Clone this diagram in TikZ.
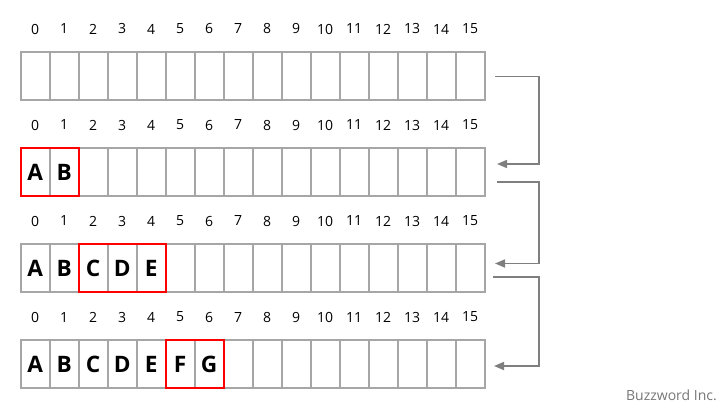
\documentclass[tikz,border=0pt]{standalone}
\usepackage{fontspec}
\setmainfont{Open Sans}
\usetikzlibrary{arrows.meta}
\definecolor{cellgray}{HTML}{A6A6A6}
\definecolor{arrowgray}{HTML}{7F7F7F}
\definecolor{boxred}{HTML}{FF0000}
\definecolor{markgray}{HTML}{767676}
\begin{document}
\begin{tikzpicture}[x=0.75pt,y=-0.75pt,
  cell/.style={draw=cellgray,line width=1.2pt,minimum width=21.75pt,minimum height=36pt,inner sep=0pt,outer sep=0pt},
  idx/.style={font=\fontsize{10.5}{12}\selectfont,inner sep=0pt},
  letter/.style={font=\bfseries\fontsize{17}{20}\selectfont,inner sep=0pt},
  redbox/.style={draw=boxred,line width=1.3pt},
  conn/.style={draw=arrowgray,line width=1.2pt,-{Triangle[length=7.5pt,width=6pt]}},
  wmark/.style={font=\fontsize{10.5}{12}\selectfont,text=markgray,inner sep=0pt}]
\useasboundingbox (0,0) rectangle (728,410);
% cells and index labels
\foreach \r/\y in {1/76,2/172,3/268,4/364}{
  \foreach \i in {0,...,15}{
    \node[cell] (c\r-\i) at ({35.2+29*\i},\y) {};
    \node[idx] (l\r-\i) at ({35.2+29*\i},\y-47) {\i};
  }
}
% letters
\foreach \L [count=\k from 0] in {A,B}{\node[letter] (t2-\k) at (c2-\k) {\L};}
\foreach \L [count=\k from 0] in {A,B,C,D,E}{\node[letter] (t3-\k) at (c3-\k) {\L};}
\foreach \L [count=\k from 0] in {A,B,C,D,E,F,G}{\node[letter] (t4-\k) at (c4-\k) {\L};}
% red boxes
\draw[redbox] (c2-0.north west) rectangle (c2-1.south east);
\draw[redbox] (c3-2.north west) rectangle (c3-4.south east);
\draw[redbox] (c4-5.north west) rectangle (c4-6.south east);
% connectors
\coordinate (s1) at (495,76.5);  \coordinate (k1a) at (539,76.5);  \coordinate (k1b) at (539,164);  \coordinate (e1) at (497,164);
\coordinate (s2) at (497,182);   \coordinate (k2a) at (539,182);   \coordinate (k2b) at (539,263.5);\coordinate (e2) at (495,263.5);
\coordinate (s3) at (493,277);   \coordinate (k3a) at (539,277);   \coordinate (k3b) at (539,366);  \coordinate (e3) at (494,366);
\draw[conn] (s1) -- (k1a) -- (k1b) -- (e1);
\draw[conn] (s2) -- (k2a) -- (k2b) -- (e2);
\draw[conn] (s3) -- (k3a) -- (k3b) -- (e3);
% watermark
\node[wmark,anchor=east] (wm) at (717,395) {Buzzword Inc.};
\end{tikzpicture}
\end{document}
